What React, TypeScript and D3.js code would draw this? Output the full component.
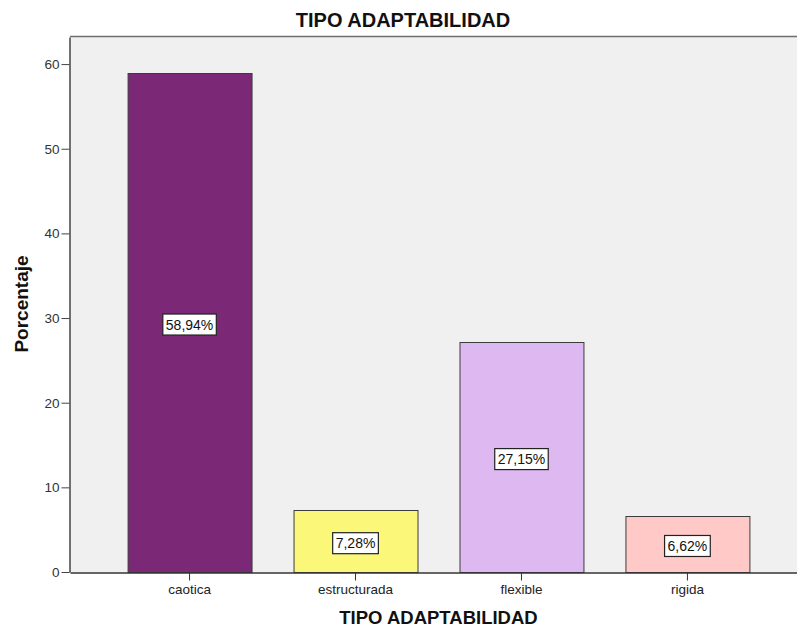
import React, { useEffect, useRef } from "react";
import * as d3 from "d3";

const categories = ["caotica", "estructurada", "flexible", "rigida"];
const percentages = [58.94, 7.28, 27.15, 6.62];
const valueLabels = ["58,94%", "7,28%", "27,15%", "6,62%"];
const barColors = ["#7b2877", "#fbf879", "#ddb8f1", "#ffc9c8"];
const yTicks = [0, 10, 20, 30, 40, 50, 60];

const width = 797;
const height = 629;
const plot = { left: 70, right: 807, top: 37, bottom: 572 };

export default function App() {
  const svgRef = useRef<SVGSVGElement>(null);

  useEffect(() => {
    if (!svgRef.current) return;
    const svg = d3.select(svgRef.current);
    svg.selectAll("*").remove();

    const font = "Liberation Sans, Arial, sans-serif";

    const x = d3
      .scaleBand()
      .domain(categories)
      .range([plot.left, plot.right])
      .paddingInner(0.253)
      .paddingOuter(0.347);

    const y = d3.scaleLinear().domain([0, 63.2]).range([plot.bottom, plot.top]);

    // plot background
    svg
      .append("rect")
      .attr("x", plot.left)
      .attr("y", plot.top)
      .attr("width", plot.right - plot.left)
      .attr("height", plot.bottom - plot.top)
      .attr("fill", "#f0f0f0");

    // top border
    svg
      .append("line")
      .attr("x1", plot.left)
      .attr("x2", width)
      .attr("y1", plot.top - 0.5)
      .attr("y2", plot.top - 0.5)
      .attr("stroke", "#6e6e6e")
      .attr("stroke-width", 1.5);

    // bars
    const data = categories.map((c, i) => ({
      cat: c,
      value: percentages[i],
      label: valueLabels[i],
      color: barColors[i],
    }));

    svg
      .selectAll(".bar")
      .data(data)
      .join("rect")
      .attr("class", "bar")
      .attr("x", (d) => (x(d.cat) || 0) + 0.5)
      .attr("y", (d) => Math.round(y(d.value)) + 0.5)
      .attr("width", x.bandwidth())
      .attr("height", (d) => plot.bottom - Math.round(y(d.value)))
      .attr("fill", (d) => d.color)
      .attr("stroke", "#3c3c3c")
      .attr("stroke-width", 1);

    // value labels
    const lbl = svg
      .selectAll(".vlabel")
      .data(data)
      .join("g")
      .attr("class", "vlabel")
      .attr(
        "transform",
        (d) =>
          `translate(${(x(d.cat) || 0) + x.bandwidth() / 2},${(y(d.value) + plot.bottom) / 2 + 2})`
      );

    lbl.each(function (d) {
      const g = d3.select(this);
      const t = g
        .append("text")
        .attr("text-anchor", "middle")
        .attr("dy", "0.36em")
        .attr("font-family", font)
        .attr("font-size", 14)
        .attr("fill", "#111")
        .text(d.label);
      const w = (t.node() as SVGTextElement).getComputedTextLength();
      g.insert("rect", "text")
        .attr("x", -w / 2 - 3)
        .attr("y", -10.5)
        .attr("width", w + 6)
        .attr("height", 21)
        .attr("fill", "#fff")
        .attr("stroke", "#222")
        .attr("stroke-width", 1.2);
    });

    // y axis
    const yAxis = svg
      .append("g")
      .attr("transform", `translate(${plot.left - 0.5},0)`)
      .call(
        d3
          .axisLeft(y)
          .tickValues(yTicks)
          .tickSize(8)
          .tickPadding(2)
          .tickSizeOuter(0)
      );
    yAxis.select(".domain").attr("stroke", "#444").attr("stroke-width", 1.5);
    yAxis.selectAll(".tick line").attr("stroke", "#444");
    yAxis
      .selectAll(".tick text")
      .attr("font-family", font)
      .attr("font-size", 13.5)
      .attr("fill", "#333");

    // x axis
    const xAxis = svg
      .append("g")
      .attr("transform", `translate(0,${plot.bottom + 0.5})`)
      .call(d3.axisBottom(x).tickSize(8).tickPadding(4).tickSizeOuter(0));
    xAxis.select(".domain").attr("stroke", "#333").attr("stroke-width", 1.5);
    xAxis.selectAll(".tick line").attr("stroke", "#333");
    xAxis
      .selectAll(".tick text")
      .attr("font-family", font)
      .attr("font-size", 13.5)
      .attr("fill", "#222");

    // titles
    svg
      .append("text")
      .attr("x", 403)
      .attr("y", 27)
      .attr("text-anchor", "middle")
      .attr("font-family", font)
      .attr("font-weight", "bold")
      .attr("font-size", 20)
      .attr("fill", "#111")
      .text("TIPO ADAPTABILIDAD");

    svg
      .append("text")
      .attr("x", (plot.left + plot.right) / 2)
      .attr("y", 624)
      .attr("text-anchor", "middle")
      .attr("font-family", font)
      .attr("font-weight", "bold")
      .attr("font-size", 18.5)
      .attr("fill", "#111")
      .text("TIPO ADAPTABILIDAD");

    svg
      .append("text")
      .attr("transform", `translate(28,304) rotate(-90)`)
      .attr("text-anchor", "middle")
      .attr("font-family", font)
      .attr("font-weight", "bold")
      .attr("font-size", 19)
      .attr("fill", "#111")
      .text("Porcentaje");
  }, []);

  return (
    <svg
      ref={svgRef}
      width={width}
      height={height}
      style={{ position: "absolute", left: 0, top: 0, background: "#fff" }}
    />
  );
}
